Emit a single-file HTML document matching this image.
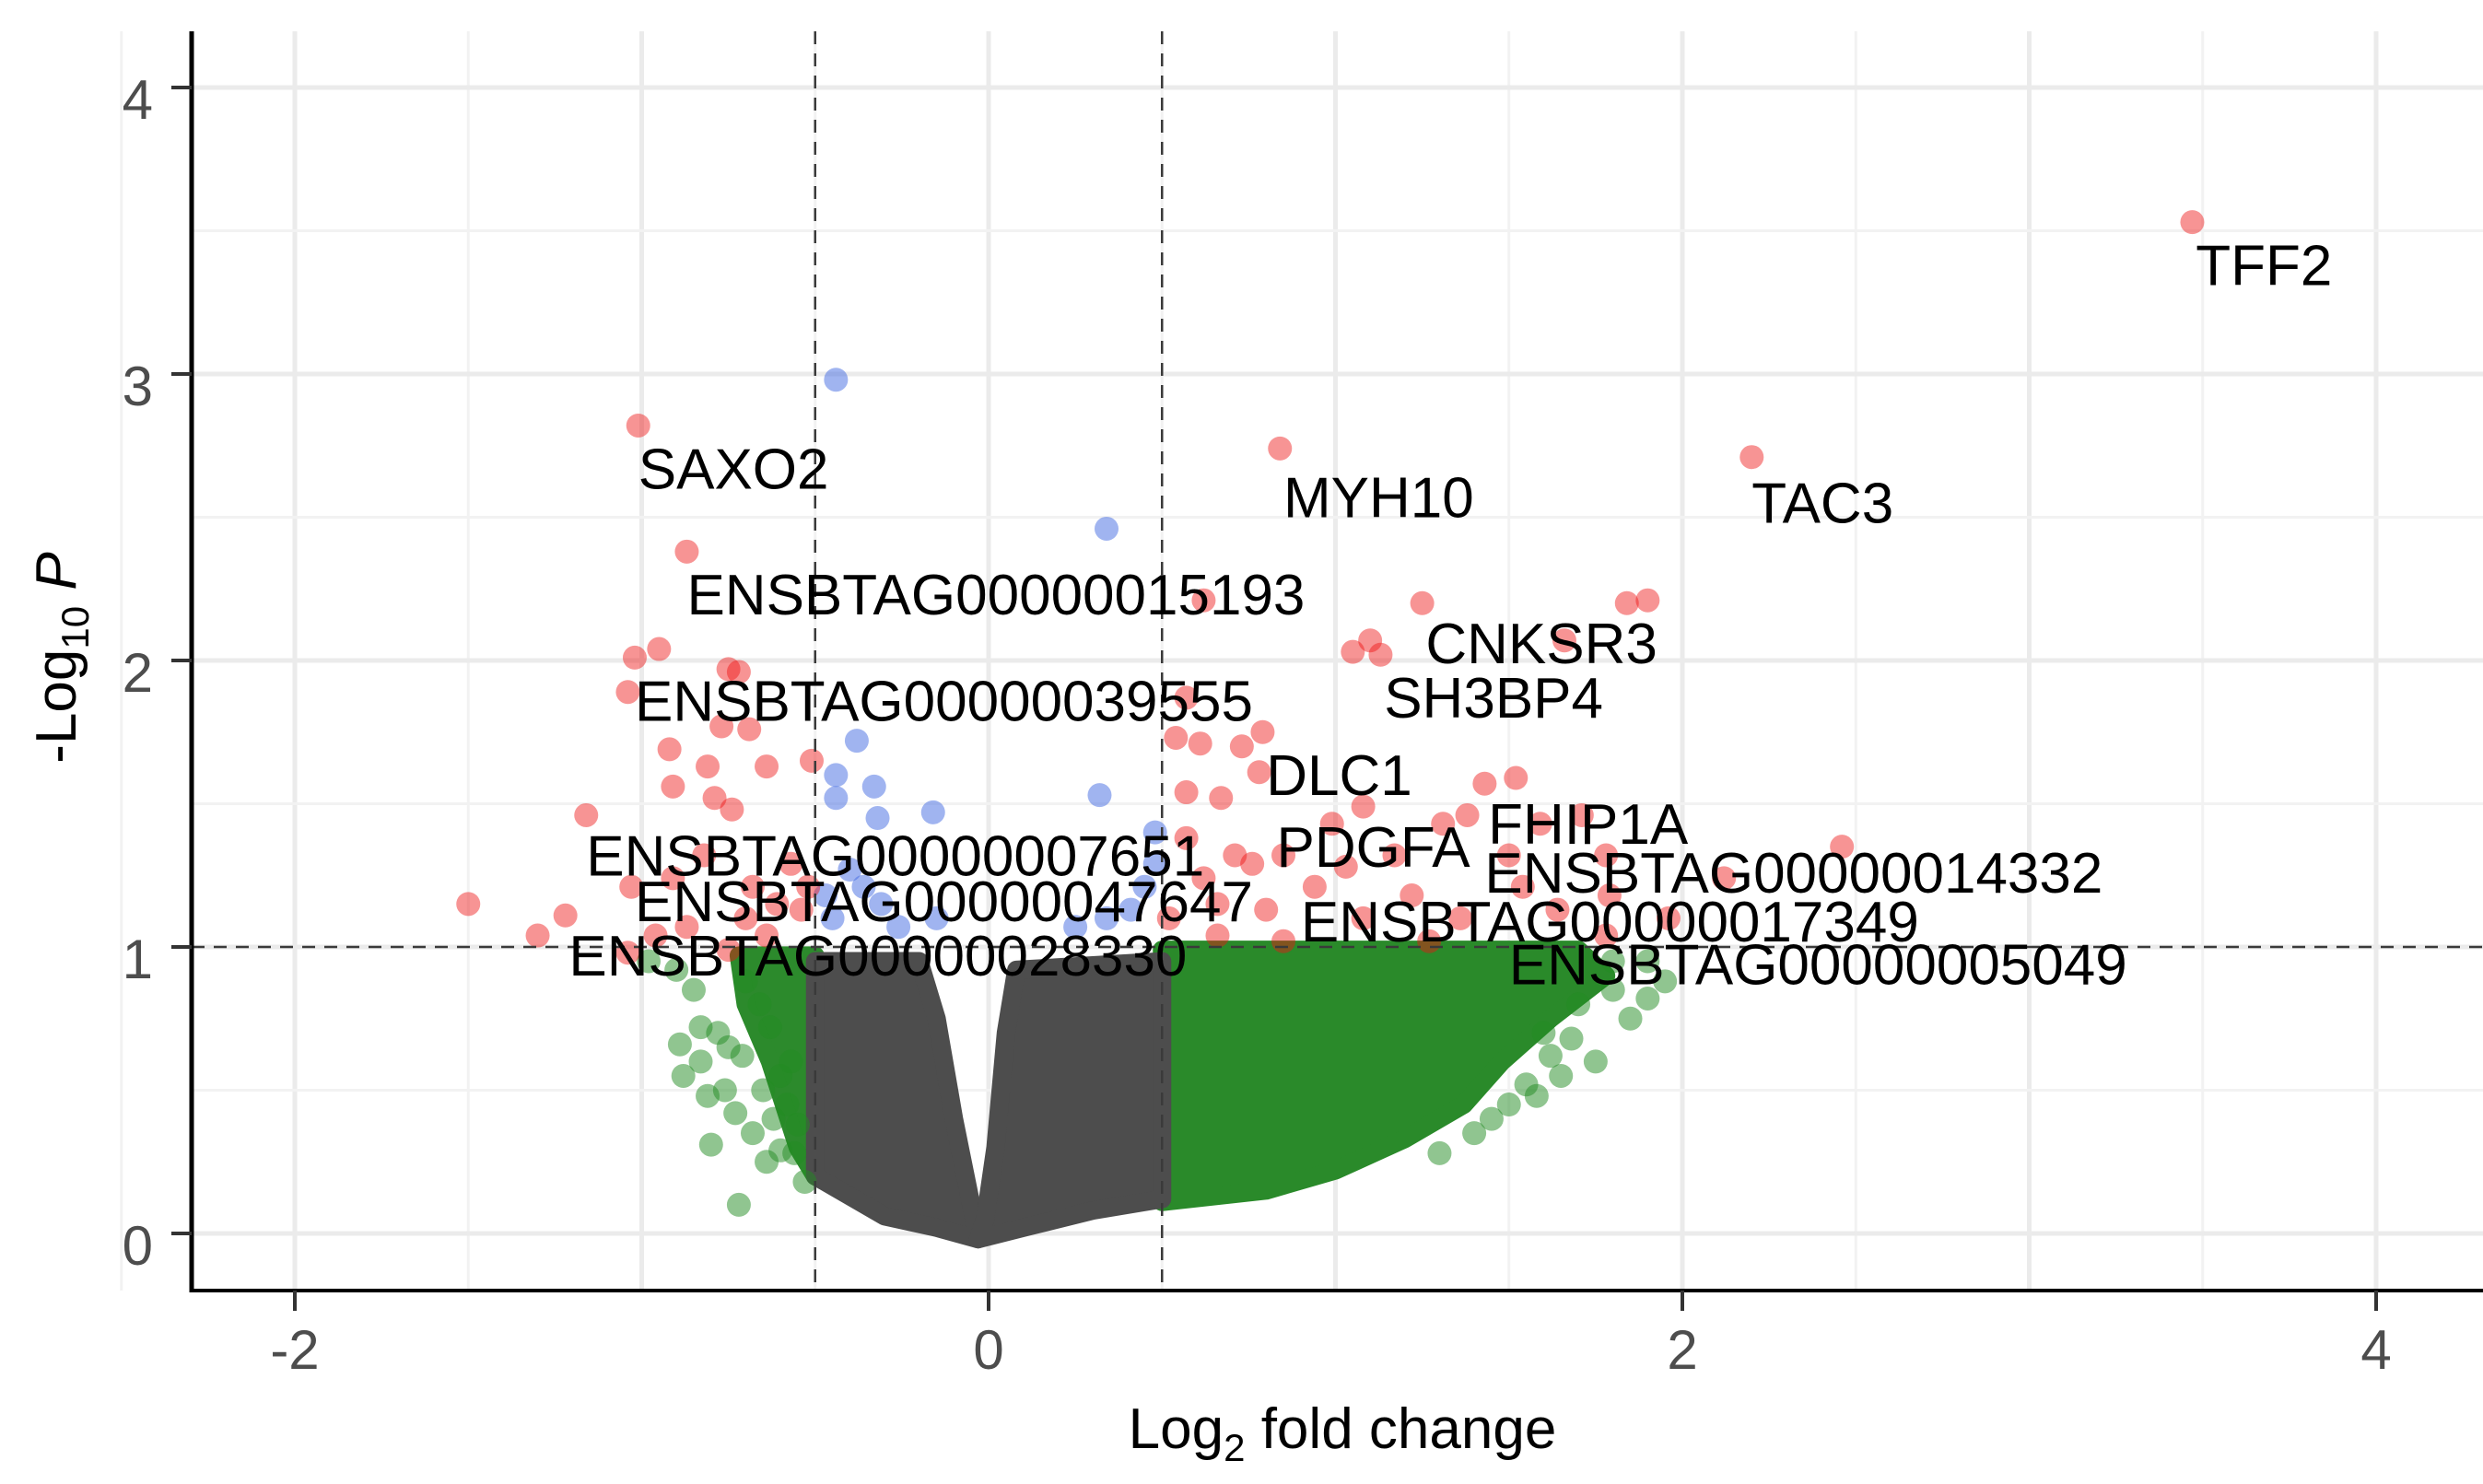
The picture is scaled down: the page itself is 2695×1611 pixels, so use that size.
<!DOCTYPE html>
<html><head><meta charset="utf-8"><style>
html,body{margin:0;padding:0;background:#fff;}
svg{display:block;font-family:"Liberation Sans",Arial,sans-serif;}
</style></head><body>
<svg id="chart" width="2695" height="1611" viewBox="0 0 2695 1611" xmlns="http://www.w3.org/2000/svg">
<g id="grid"></g>
<g id="clouds"></g>
<g id="points"></g>
<g id="refs"></g>
<g id="labels"></g>
<g id="axes"></g>
</svg>
<script>
const xTicks = [-2, 0, 2, 4];
const yTicks = [0, 1, 2, 3, 4];
const fcCut = [-0.5, 0.5];
const pCut = [1];
const redX = [3.47,2.20,0.84,-1.01,-0.87,0.62,1.25,1.84,1.90,1.66,1.10,1.05,1.13,-0.95,-1.02,-1.04,-0.75,-0.72,-0.77,-0.69,-0.92,-0.81,-0.91,-0.79,-0.74,-0.64,-0.51,-1.16,-1.50,-1.22,-1.30,-1.04,0.57,0.54,0.61,0.73,0.79,0.57,0.67,0.78,1.43,1.52,2.46,2.12,1.71,1.59,1.78,1.79,1.96,0.57,0.71,0.85,0.99,1.08,1.17,1.31,1.38,1.50,0.66,0.80,0.94,1.08,1.22,1.36,1.54,1.64,1.78,0.62,0.76,1.03,0.52,0.66,0.85,1.27,-0.68,-0.61,-0.57,-0.64,-0.70,-0.54,-0.82,-0.87,-0.91,-0.75,-0.52,-0.96,-1.03];
const redY = [3.53,2.71,2.74,2.82,2.38,2.21,2.20,2.20,2.21,2.07,2.07,2.03,2.02,2.04,2.01,1.89,1.97,1.96,1.77,1.76,1.69,1.63,1.56,1.52,1.48,1.63,1.65,1.46,1.15,1.11,1.04,0.98,1.87,1.73,1.71,1.70,1.75,1.54,1.52,1.61,1.57,1.59,1.35,1.24,1.46,1.43,1.32,1.18,1.10,1.38,1.32,1.32,1.43,1.49,1.32,1.43,1.46,1.32,1.15,1.13,1.21,1.10,1.18,1.10,1.21,1.13,1.04,1.24,1.29,1.28,1.10,1.04,1.02,1.02,1.21,1.15,1.29,1.04,1.10,1.13,1.32,1.07,1.24,0.99,1.21,1.04,1.21];
const blueX = [-0.44,0.34,-0.38,-0.33,-0.44,-0.44,-0.32,-0.16,0.32,0.48,-0.40,-0.36,-0.31,-0.45,-0.15,0.45,0.41,0.34,0.48,0.25,-0.26,-0.47];
const blueY = [2.98,2.46,1.72,1.56,1.60,1.52,1.45,1.47,1.53,1.40,1.27,1.21,1.15,1.10,1.10,1.21,1.13,1.10,1.29,1.07,1.07,1.18];
const greenX = [-0.88,-0.83,-0.81,-0.78,-0.76,-0.73,-0.71,-0.68,-0.65,-0.63,-0.85,-0.9,-0.98,-0.8,-0.6,-0.56,-0.72,-0.53,-0.75,-0.62,-0.83,-0.89,-0.66,-0.6,-0.58,-0.55,-0.7,-0.64,-0.57,1.6,1.7,1.8,1.85,1.9,1.95,1.75,1.65,1.5,1.55,1.4,1.3,1.45,1.8,1.9,1.62,1.68,1.58];
const greenY = [0.55,0.6,0.48,0.7,0.5,0.42,0.62,0.35,0.5,0.72,0.85,0.92,0.95,0.31,0.29,0.28,0.1,0.18,0.65,0.4,0.72,0.66,0.8,0.55,0.45,0.38,0.88,0.25,0.6,0.7,0.8,0.85,0.75,0.82,0.88,0.6,0.55,0.45,0.52,0.35,0.28,0.4,0.95,0.95,0.62,0.68,0.48];
const greenRightX = [0.5,1.7,1.78,1.62,1.48,1.37,1.2,1.0,0.8,0.5];
const greenRightY = [0.99,0.99,0.9,0.75,0.6,0.45,0.33,0.22,0.15,0.11];
const greenLeftX = [-0.5,-0.72,-0.7,-0.63,-0.59,-0.55,-0.5];
const greenLeftY = [0.97,0.97,0.8,0.6,0.45,0.3,0.2];
const greyLX = [-0.5,-0.2,-0.15,-0.1,-0.05,-0.03,-0.15,-0.3,-0.5];
const greyLY = [0.95,0.95,0.75,0.4,0.1,-0.02,0.02,0.06,0.2];
const greyRX = [0.5,0.08,0.05,0.02,-0.01,-0.03,0.1,0.3,0.5];
const greyRY = [0.95,0.92,0.7,0.3,0.05,-0.02,0.02,0.08,0.12];
const labelText = ["TFF2","TAC3","MYH10","SAXO2","ENSBTAG00000015193","ENSBTAG00000039555","CNKSR3","SH3BP4","DLC1","FHIP1A","PDGFA","ENSBTAG00000007651","ENSBTAG00000014332","ENSBTAG00000047647","ENSBTAG00000017349","ENSBTAG00000028330","ENSBTAG00000005049"];
const labelX = [3.48,2.20,0.85,-1.01,-0.87,-1.02,1.26,1.14,0.80,1.44,0.83,-1.16,1.43,-1.02,0.90,-1.21,1.50];
const labelY = [3.31,2.48,2.50,2.60,2.16,1.79,1.99,1.80,1.53,1.36,1.28,1.25,1.19,1.09,1.02,0.90,0.87];

const NS = "http://www.w3.org/2000/svg";
const X0 = 1073, XU = 376.5, Y0 = 1339, YU = 311;
const L = 208, R = 2695, T = 34, B = 1401;
function sx(v){ return X0 + v*XU; }
function sy(v){ return Y0 - v*YU; }
function mk(tag, attrs, parent){ const e = document.createElementNS(NS, tag); for (const k in attrs) e.setAttribute(k, attrs[k]); parent.appendChild(e); return e; }

const grid = document.getElementById('grid');
for (let v = -2.5; v <= 4.5; v += 0.5) {
  const major = Number.isInteger(v);
  const ln = mk('line', {x1: sx(v), x2: sx(v), y1: T, y2: B, stroke: major ? '#ebebeb' : '#f2f2f2', 'stroke-width': major ? 5 : 3}, grid);
  
  
}
for (let v = 0; v <= 4; v += 0.5) {
  const major = Number.isInteger(v);
  const ln = mk('line', {x1: L, x2: R, y1: sy(v), y2: sy(v), stroke: major ? '#ebebeb' : '#f2f2f2', 'stroke-width': major ? 5 : 3}, grid);
  
  
}

const clouds = document.getElementById('clouds');
function poly(xs, ys, color, name){
  const pts = xs.map((x,i)=> sx(x)+','+sy(ys[i])).join(' ');
  const p = mk('polygon', {points: pts, fill: color, stroke: color, 'stroke-width': 20, 'stroke-linejoin': 'round'}, clouds);
  
  
}
poly(greenLeftX, greenLeftY, '#2c8a2c', 'green-cloud-left');
poly(greenRightX, greenRightY, '#2a8a2a', 'green-cloud-right');
poly(greyLX, greyLY, '#4d4d4d', 'grey-cloud-left');
poly(greyRX, greyRY, '#4d4d4d', 'grey-cloud-right');

const pg = document.getElementById('points');
function dots(xs, ys, color, op, name){
  xs.forEach((x,i)=>{
    const c = mk('circle', {cx: sx(x), cy: sy(ys[i]), r: 13, fill: color, 'fill-opacity': op}, pg);
    
    
  });
}
dots(greenX, greenY, '#228b22', 0.5, 'point-ns-fc');
dots(blueX, blueY, '#4169e1', 0.5, 'point-p-only');
dots(redX, redY, '#ee1111', 0.45, 'point-significant');

const refs = document.getElementById('refs');
fcCut.forEach(v=>{
  const l = mk('line', {x1: sx(v), x2: sx(v), y1: T, y2: B, stroke: '#3a3a3a', 'stroke-width': 2.5, 'stroke-dasharray': '14 10'}, refs);
  
  
});
pCut.forEach(v=>{
  const l = mk('line', {x1: L, x2: R, y1: sy(v), y2: sy(v), stroke: '#3a3a3a', 'stroke-width': 2.5, 'stroke-dasharray': '14 10'}, refs);
  
  
});

const lg = document.getElementById('labels');
labelText.forEach((t,i)=>{
  const e = mk('text', {x: sx(labelX[i]), y: sy(labelY[i]), 'font-size': 62, fill: '#000'}, lg);
  e.textContent = t;
  
  
});

const ax = document.getElementById('axes');
let a = mk('line', {x1: L, x2: L, y1: T, y2: B+2, stroke: '#000', 'stroke-width': 5}, ax);
 
a = mk('line', {x1: L-2, x2: R, y1: B, y2: B, stroke: '#000', 'stroke-width': 4}, ax);
 
xTicks.forEach(v=>{
  const tk = mk('line', {x1: sx(v), x2: sx(v), y1: B, y2: B+22, stroke: '#333', 'stroke-width': 4}, ax);
   
  const tl = mk('text', {x: sx(v), y: 1486, 'font-size': 60, fill: '#4d4d4d', 'text-anchor': 'middle'}, ax);
  tl.textContent = v < 0 ? '-' + Math.abs(v) : String(v);
   
});
yTicks.forEach(v=>{
  const tk = mk('line', {x1: 186, x2: L, y1: sy(v), y2: sy(v), stroke: '#333', 'stroke-width': 4}, ax);
   
  const tl = mk('text', {x: 166, y: sy(v) + 34, 'font-size': 60, fill: '#4d4d4d', 'text-anchor': 'end'}, ax);
  tl.textContent = String(v);
   
});
</script>
<svg style="position:absolute;left:0;top:0" width="2695" height="1611">
<text x="1457" y="1572" font-size="62" text-anchor="middle" font-family="Liberation Sans, sans-serif" fill="#000">Log<tspan font-size="42" dy="14">2</tspan><tspan dy="-14"> fold change</tspan></text>
<text transform="translate(82,714) rotate(-90)" font-size="62" text-anchor="middle" font-family="Liberation Sans, sans-serif" fill="#000">-Log<tspan font-size="42" dy="14">10</tspan><tspan dy="-14" font-style="italic"> P</tspan></text>
</svg>
</body></html>
